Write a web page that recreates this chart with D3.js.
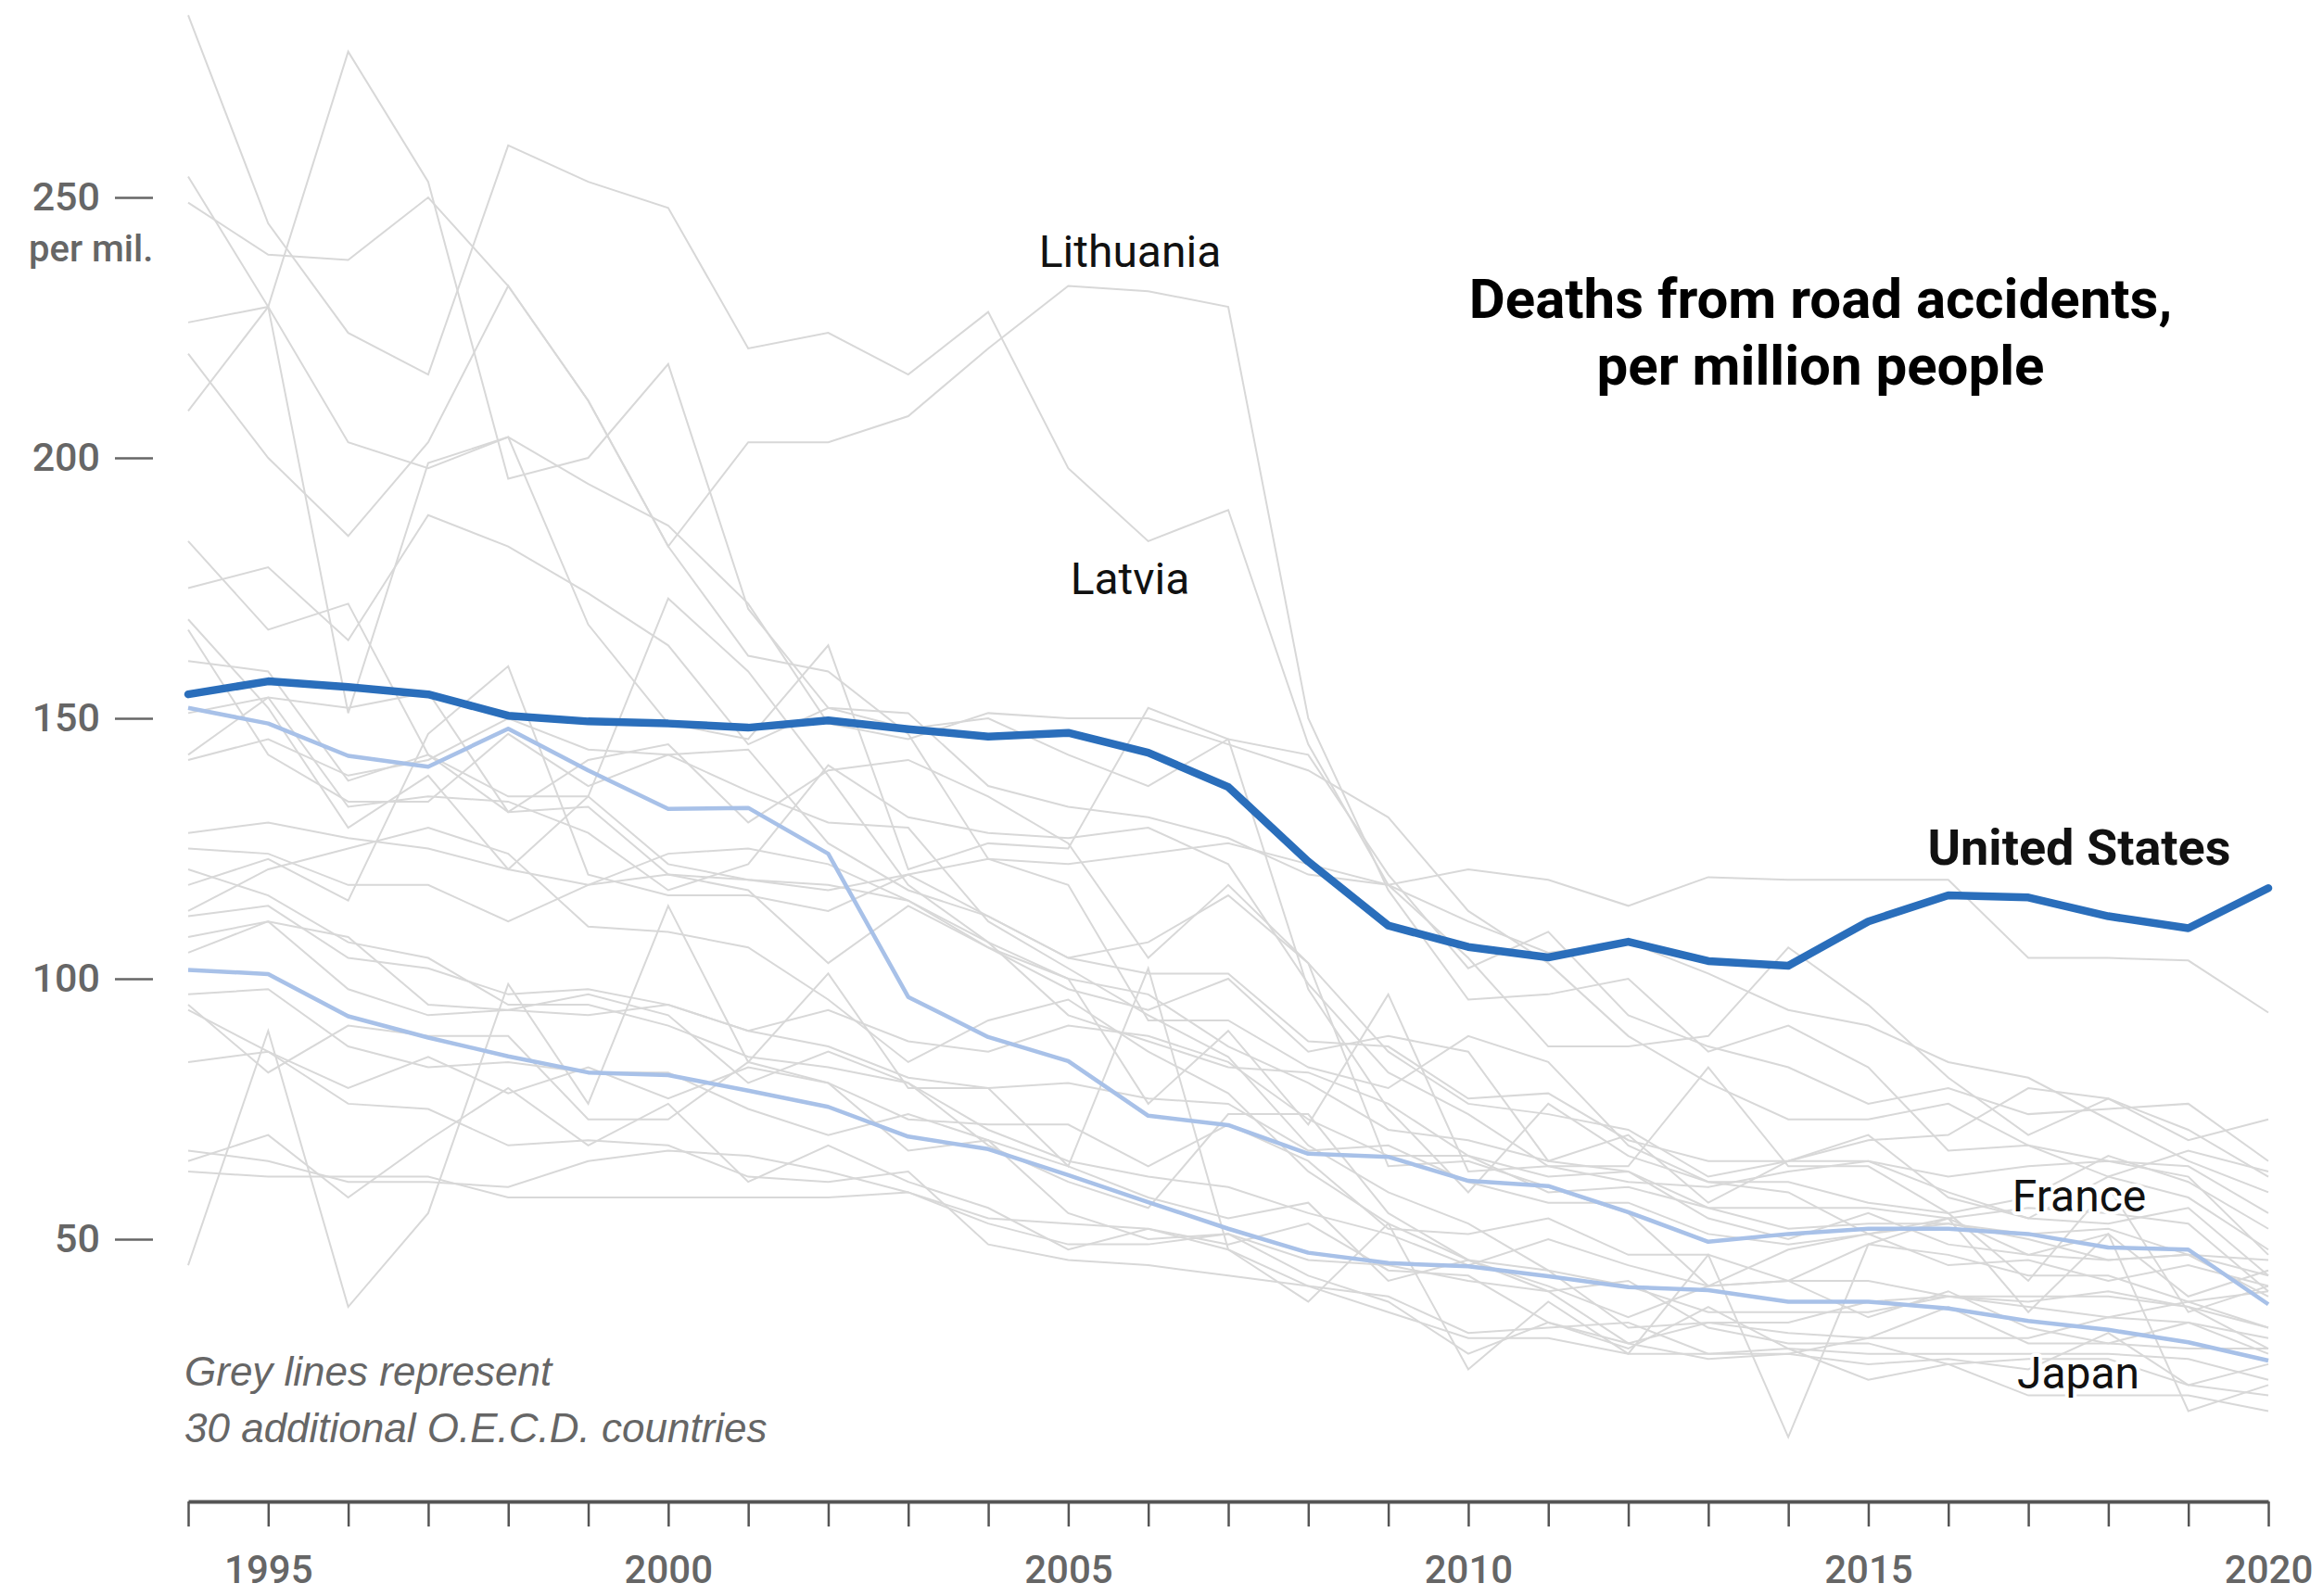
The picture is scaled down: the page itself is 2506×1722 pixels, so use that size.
<!DOCTYPE html>
<html>
<head>
<meta charset="utf-8">
<script src="https://cdn.jsdelivr.net/npm/d3@7"></script>
<style>
  html, body { margin: 0; padding: 0; background: #fff; }
  svg { display: block; }
</style>
</head>
<body>
<svg id="chart" width="2506" height="1722"></svg>
<script>
// ---------------- DATA ----------------
const years = d3.range(1994, 2021);
const yTickValues = [50, 100, 150, 200, 250];
const xTickLabels = [1995, 2000, 2005, 2010, 2015, 2020];

// Highlighted series (deaths per million people)
const unitedStates = [154.6,157.1,156,154.6,150.5,149.4,149,148.2,149.6,147.9,146.5,147.2,143.4,136.8,122.5,110.2,106.1,104.1,107.1,103.4,102.5,111,116,115.6,112,109.7,117.4];
const france       = [152,149,142.8,140.7,148,140,132.6,132.8,124,96.5,88.8,84.2,73.7,71.9,66.4,65.8,61.2,60.2,55.2,49.5,51,52,52,51,48.4,48,37.5];
const japan        = [101.7,100.9,92.8,88.7,85.1,82,81.5,78.5,75.4,69.7,67.3,62.3,57.1,52,47.4,45.4,44.8,42.9,40.8,40.2,38,38,36.7,34.3,32.6,30.2,26.7];

// Grey series: 30 additional O.E.C.D. countries
const latvia      = [285,245,224,216,260,253,248,221,224,216,228,198,184,190,145,118,104,87,87,89,106,95,81,70,77,69,73];
const lithuania   = [220,200,185,203,233,211,183,203,203,208,221,233,232,229,150,117,96,97,100,86,91,83,67,68,62,67,63];
const estonia     = [254,229,151,199,204,168,149,146,164,121,126,125,152,146,98,75,59,76,66,61,59,51,54,36,51,39,44];
const portugal    = [249,239,238,250,233,211,183,162,159,147,123,118,92,92,83,79,89,84,68,61,61,57,55,58,66,61,52];
const korea       = [226,229,278,253,196,200,218,171,152,151,137,133,131,127,120,118,111,105,107,101,94,91,84,81,73,65,59];
const greece      = [209,229,203,198,204,195,187,172,149,146,151,150,150,145,140,131,113,103,89,80,73,73,76,68,65,64,55];
const poland      = [175,179,165,189,183,174,164,145,152,148,150,143,137,146,143,120,102,109,93,87,83,76,79,74,75,76,65];
const luxembourg  = [184,167,172,143,135,135,173,159,139,118,107,100,76,90,72,97,63,64,64,83,64,64,55,42,60,36,41];
const austria     = [169,152,129,139,121,135,122,119,118,115,107,93,88,83,82,76,66,62,63,54,50,55,49,47,46,47,39];
const belgium     = [167,143,134,134,147,137,143,144,126,117,112,104,101,101,88,87,77,78,69,65,65,65,59,54,53,56,43];
const newZealand  = [161,159,138,143,132,133,120,117,103,114,106,98,94,100,86,89,86,65,70,57,65,69,70,79,77,71,62];
const hungary     = [151,154,133,135,134,128,117,122,141,131,128,127,129,122,99,82,74,64,61,60,63,65,62,64,65,62,47];
const czechia     = [143,154,152,155,132,142,145,130,140,142,135,126,104,118,103,86,76,74,71,62,65,70,58,54,62,58,48];
const spain       = [142,146,139,142,150,144,143,136,130,129,111,102,93,85,68,59,53,44,41,36,36,36,39,39,39,37,29];
const italy       = [125,124,118,118,111,118,124,125,122,115,106,100,97,87,80,71,69,65,63,56,56,56,54,56,55,53,40];
const germany     = [121,116,107,104,95,95,91,85,83,80,71,65,62,60,55,51,45,50,45,41,42,42,39,38,40,37,33];
const ireland     = [113,121,125,129,124,110,109,106,96,84,92,96,86,78,63,53,46,41,35,41,42,35,40,33,30,29,29];
const canada      = [112,114,104,102,97,98,95,90,94,88,86,91,89,84,73,66,66,59,60,56,52,53,53,51,52,47,46];
const australia   = [108,111,108,95,94,93,95,90,87,81,79,80,77,76,67,68,61,57,57,51,49,51,53,50,46,47,43];
const denmark     = [105,111,98,93,94,97,93,80,86,80,68,61,56,74,74,55,46,40,30,34,32,31,37,30,30,34,28];
const israel      = [95,82,91,89,89,73,73,84,80,67,69,64,58,54,57,42,46,44,33,34,34,38,39,37,35,38,33];
const finland     = [94,86,79,85,78,83,77,83,80,73,72,72,64,72,65,52,51,54,47,47,42,49,47,43,43,38,40];
const netherlands = [84,86,76,75,68,69,68,62,61,63,49,46,45,43,41,39,32,33,34,28,28,31,31,31,35,34,31];
const switzerland = [97,98,87,83,84,82,82,75,70,74,69,55,50,51,46,45,42,40,42,33,30,30,26,27,27,22,26];
const unitedKingdom = [63,62,62,62,58,58,58,58,58,59,54,53,52,48,41,36,31,31,28,28,29,28,28,28,28,27,23];
const sweden      = [67,65,61,61,60,65,67,66,63,59,53,49,49,51,43,38,28,34,30,27,28,26,27,25,32,22,20];
const norway      = [65,70,58,69,79,68,76,61,68,61,56,48,52,49,53,44,43,34,29,37,29,23,26,20,20,20,17];
const iceland     = [45,90,37,55,99,76,114,84,101,79,79,64,102,48,38,53,25,38,28,47,12,49,54,47,51,17,22];
const slovakia    = [118,123,115,147,160,120,116,116,113,120,112,104,107,116,103,64,65,60,55,41,48,51,45,46,42,45,41];
const chile       = [128,130,127,125,121,118,120,119,117,120,123,122,124,126,122,118,121,119,114,119.5,119,119,119,104,104,103.5,93.5];

const greySeries = [latvia, lithuania, estonia, portugal, korea, greece, poland, luxembourg,
  austria, belgium, newZealand, hungary, czechia, spain, italy, germany, ireland, canada,
  australia, denmark, israel, finland, netherlands, switzerland, unitedKingdom, sweden,
  norway, iceland, slovakia, chile];

// ---------------- CHART ----------------
const svg = d3.select("#chart");
const axisFont = "Roboto, 'Liberation Sans', Arial, sans-serif";

const x = d3.scaleLinear().domain([1994, 2020]).range([203, 2447]);
const y = d3.scaleLinear().domain([0, 250]).range([1618, 213]);

const line = d3.line()
  .x((d, i) => x(years[i]))
  .y(d => y(d));

// grey lines
svg.append("g")
  .selectAll("path")
  .data(greySeries)
  .join("path")
  .attr("d", line)
  .attr("fill", "none")
  .attr("stroke", "#d8d8d8")
  .attr("stroke-width", 2);

// light blue lines
svg.append("g")
  .selectAll("path")
  .data([france, japan])
  .join("path")
  .attr("d", line)
  .attr("fill", "none")
  .attr("stroke", "#a8c1e8")
  .attr("stroke-width", 4.5)
  .attr("stroke-linejoin", "round");

// United States
svg.append("path")
  .datum(unitedStates)
  .attr("d", line)
  .attr("fill", "none")
  .attr("stroke", "#2a6ebb")
  .attr("stroke-width", 8.5)
  .attr("stroke-linejoin", "round")
  .attr("stroke-linecap", "round");

// y axis
const yAxis = d3.axisLeft(y)
  .tickValues(yTickValues)
  .tickSize(41)
  .tickPadding(16)
  .tickFormat(d3.format("d"));
const gy = svg.append("g").attr("transform", "translate(165,0)").call(yAxis);
gy.select(".domain").remove();
gy.selectAll(".tick line").attr("stroke", "#666").attr("stroke-width", 2.5);
gy.selectAll(".tick text")
  .attr("fill", "#666")
  .style("font-family", axisFont)
  .style("font-size", "43px")
  .style("font-weight", 500);

svg.append("text")
  .attr("x", 31).attr("y", 282)
  .attr("fill", "#666")
  .style("font-family", axisFont)
  .style("font-size", "40px")
  .style("font-weight", 500)
  .text("per mil.");

// x axis
const xAxis = d3.axisBottom(x)
  .tickValues(years)
  .tickSize(27)
  .tickSizeOuter(0)
  .tickFormat(d => xTickLabels.includes(d) ? String(d) : "");
const gx = svg.append("g").attr("transform", "translate(0,1620)").call(xAxis);
gx.select(".domain").attr("stroke", "#555").attr("stroke-width", 4);
gx.selectAll(".tick line").attr("stroke", "#555").attr("stroke-width", 2.5);
gx.selectAll(".tick text")
  .attr("y", 88).attr("dy", 0)
  .attr("fill", "#666")
  .style("font-family", axisFont)
  .style("font-size", "42px")
  .style("font-weight", 500);

// note
const note = svg.append("text")
  .attr("fill", "#666")
  .style("font-family", "'Liberation Sans', Arial, sans-serif")
  .style("font-size", "44px")
  .style("font-style", "italic");
note.append("tspan").attr("x", 199).attr("y", 1495).text("Grey lines represent");
note.append("tspan").attr("x", 199).attr("y", 1556).text("30 additional O.E.C.D. countries");

// title
const title = svg.append("text")
  .attr("text-anchor", "middle")
  .attr("fill", "#000")
  .style("font-family", "Roboto, 'Liberation Sans', Arial, sans-serif")
  .style("font-size", "60px")
  .style("font-weight", 700);
title.append("tspan").attr("x", 1964).attr("y", 343).text("Deaths from road accidents,");
title.append("tspan").attr("x", 1964).attr("y", 415).text("per million people");

// series labels
function label(txt, cx, by, size, weight) {
  svg.append("text")
    .attr("x", cx).attr("y", by)
    .attr("text-anchor", "middle")
    .attr("fill", "#111")
    .attr("stroke", "#fff")
    .attr("stroke-width", 8)
    .attr("stroke-linejoin", "round")
    .attr("paint-order", "stroke")
    .style("font-family", "Roboto, 'Liberation Sans', Arial, sans-serif")
    .style("font-size", size + "px")
    .style("font-weight", weight)
    .text(txt);
}
label("Lithuania", 1219, 288, 48, 400);
label("Latvia", 1219, 641, 48, 400);
label("United States", 2243, 933, 54, 700);
label("France", 2243, 1307, 48, 400);
label("Japan", 2242, 1498, 48, 400);
</script>
</body>
</html>
